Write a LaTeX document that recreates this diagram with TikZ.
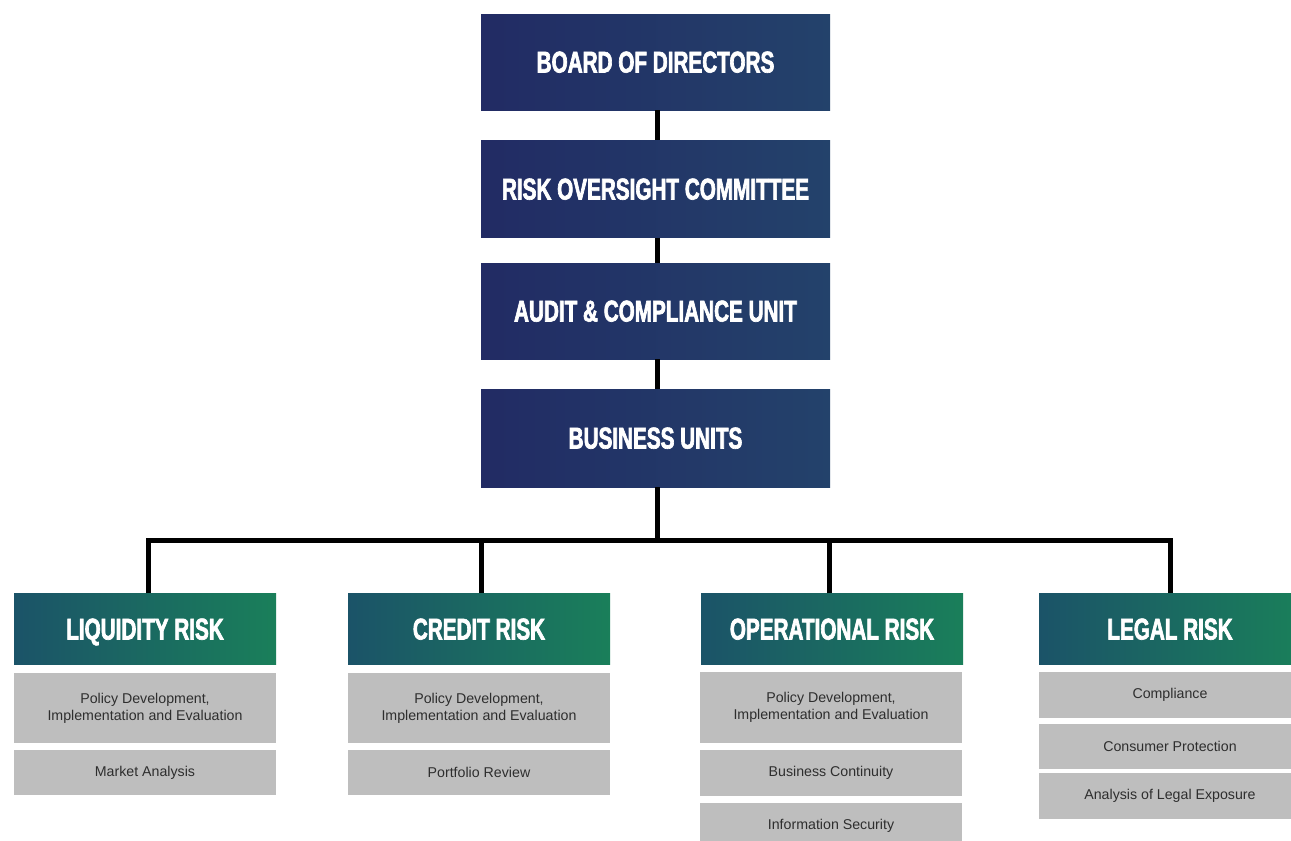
\documentclass[tikz,border=0pt]{standalone}
\usepackage{fontspec}
\setmainfont{Liberation Sans}
\newfontfamily\headfont[FakeStretch=0.69,FakeBold=2.2]{Liberation Sans Bold}
\definecolor{navyL}{HTML}{222B64}
\definecolor{navyR}{HTML}{23426B}
\definecolor{tealL}{HTML}{1B5368}
\definecolor{tealR}{HTML}{1A7F5A}
\definecolor{itemgray}{HTML}{BEBEBE}
\definecolor{itemtext}{HTML}{2E2E2E}
\begin{document}
\begin{tikzpicture}[x=1pt,y=-1pt,
  headtext/.style={text=white, text height=21pt, text depth=0pt,
    font=\headfont\fontsize{30}{32}\selectfont},
  navybox/.style={rectangle, inner sep=0pt, minimum width=349pt,
    left color=navyL, right color=navyR, headtext},
  riskhead/.style={rectangle, inner sep=0pt, minimum width=262pt, minimum height=71pt,
    left color=tealL, right color=tealR, headtext},
  itembox/.style={rectangle, inner sep=0pt, minimum width=262pt, fill=itemgray,
    text=itemtext, align=center, font=\fontsize{14.2}{17}\selectfont},
  link/.style={line width=5pt, black}]
\useasboundingbox (0,0) rectangle (1291,841);
\clip (0,0) rectangle (1291,841);

% chain of governing bodies
\node[navybox, minimum height=96pt] (board) at (655.5,62) {BOARD OF DIRECTORS};
\node[navybox, minimum height=97pt] (rooc) at (655.5,189) {RISK OVERSIGHT COMMITTEE};
\node[navybox, minimum height=96pt] (audit) at (655.5,311) {AUDIT \& COMPLIANCE UNIT};
\node[navybox, minimum height=98pt] (bu) at (655.5,438) {BUSINESS UNITS};

% risk categories
\node[riskhead] (liq) at (145,629) {LIQUIDITY RISK};
\node[riskhead] (cred) at (479,629) {CREDIT RISK};
\node[riskhead] (oper) at (832,629) {OPERATIONAL RISK};
\node[riskhead] (legal) at (1170,629) {LEGAL RISK};

% responsibilities under each category
\node[itembox, minimum height=70pt] (liq1) at (145,708) {Policy Development,\\Implementation and Evaluation};
\node[itembox, minimum height=45pt] (liq2) at (145,772.5) {Market Analysis};

\node[itembox, minimum height=70pt] (cred1) at (479,708) {Policy Development,\\Implementation and Evaluation};
\node[itembox, minimum height=45pt] (cred2) at (479,772.5) {Portfolio Review};

\node[itembox, minimum height=71pt] (oper1) at (831,707.5) {Policy Development,\\Implementation and Evaluation};
\node[itembox, minimum height=46pt] (oper2) at (831,773) {Business Continuity};
\node[itembox, minimum height=46pt] (oper3) at (831,826) {Information Security};

\node[itembox, minimum height=46pt] (legal1) at (1170,695) {Compliance};
\node[itembox, minimum height=45pt] (legal2) at (1170,746.5) {Consumer Protection};
\node[itembox, minimum height=46pt] (legal3) at (1170,796) {Analysis of Legal Exposure};

% connectors
\coordinate (trunk) at (657,540.5);
\draw[link] ([xshift=1.5pt]board.south) -- ([xshift=1.5pt]rooc.north);
\draw[link] ([xshift=1.5pt]rooc.south) -- ([xshift=1.5pt]audit.north);
\draw[link] ([xshift=1.5pt]audit.south) -- ([xshift=1.5pt]bu.north);
\draw[link] ([xshift=1.5pt]bu.south) -- (trunk);
\draw[link] ([xshift=3pt]liq.north) |- (trunk) -| (legal.north);
\draw[link] ([xshift=2pt]cred.north) -- ([xshift=2pt]cred.north |- trunk);
\draw[link] ([xshift=-3pt]oper.north) -- ([xshift=-3pt]oper.north |- trunk);
\end{tikzpicture}
\end{document}
